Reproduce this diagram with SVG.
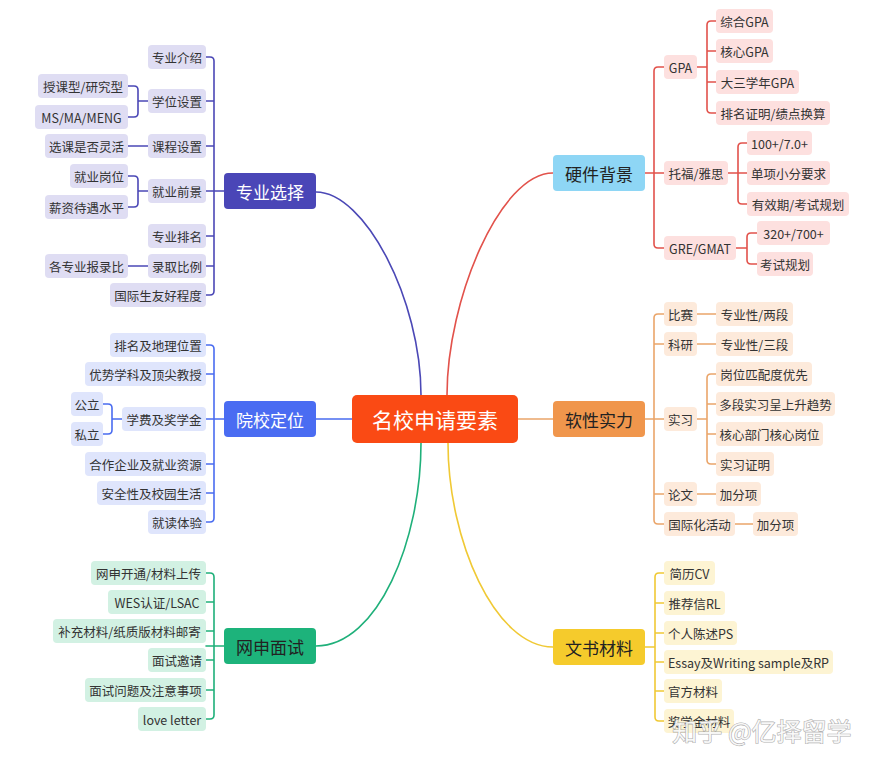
<svg xmlns="http://www.w3.org/2000/svg" width="879" height="765" viewBox="0 0 879 765">
<style>
text{font-family:"Noto Sans CJK SC","Noto Sans",sans-serif;text-anchor:middle;dominant-baseline:central}
.s{font-size:12.5px;fill:#333}
.m{font-size:17px}
.c path{fill:none;stroke-width:1.6;stroke-linecap:round}
.pa rect{fill:#dfddf3}.pb rect{fill:#dfe5fc}.pc rect{fill:#d2f1e3}
.pd rect{fill:#fde0df}.pe rect{fill:#fdeadb}.pf rect{fill:#fdf4d3}
.la{stroke:#4b48b6}.lb{stroke:#4a6cf0}.lc{stroke:#1fb07a}.ld{stroke:#e2524b}.le{stroke:#eaa56a}.lf{stroke:#f0c935}
</style>
<rect width="879" height="765" fill="#fff"/>
<g id="connectors" class="c">
<path class="la" d="M316,192 C365,192 421,300 421,395"/>
<path class="ld" d="M553,173 C500,173 447,300 447,395"/>
<path class="lc" d="M316,646 C378,646 421,540 421,443"/>
<path class="lf" d="M553,647 C495,647 448,540 448,443"/>
<path class="lb" d="M316,419 H352"/>
<path class="le" d="M518,419 H553"/>
<path class="la" d="M206,57 H210 Q214,57 214,61 V291 Q214,295 210,295 H206 M206,101 H214 M206,146 H214 M206,191 H224 M206,236 H214 M206,266 H214"/>
<path class="la" d="M128,86 H134 Q138,86 138,90 V113 Q138,117 134,117 H128 M138,101 H148 M128,146 H148 M128,176 H134 Q138,176 138,180 V203 Q138,207 134,207 H128 M138,191 H148 M128,266 H148"/>
<path class="lb" d="M206,345 H210 Q214,345 214,349 V518 Q214,522 210,522 H206 M206,374 H214 M206,419 H224 M206,464 H214 M206,493 H214"/>
<path class="lb" d="M103,404 H108 Q112,404 112,408 V430 Q112,434 108,434 H103 M112,419 H122"/>
<path class="lc" d="M206,573 H210 Q214,573 214,577 V715 Q214,719 210,719 H206 M206,602 H214 M206,631 H214 M206,646 H224 M206,660 H214 M206,690 H214"/>
<path class="ld" d="M664,67 H658 Q654,67 654,71 V244 Q654,248 658,248 H664 M645,173 H664"/>
<path class="ld" d="M716,21 H711 Q707,21 707,25 V109 Q707,113 711,113 H716 M697,67 H707 M707,51 H716 M707,82 H716"/>
<path class="ld" d="M747,143 H742 Q738,143 738,147 V200 Q738,204 742,204 H747 M728,173 H747"/>
<path class="ld" d="M757,233 H751 Q747,233 747,237 V260 Q747,264 751,264 H757 M736,248 H747"/>
<path class="le" d="M664,314 H658 Q654,314 654,318 V520 Q654,524 658,524 H664 M645,419 H664 M654,344 H664 M654,494 H664"/>
<path class="le" d="M697,314 H716 M697,344 H716 M697,494 H716 M735,524 H753"/>
<path class="le" d="M716,374 H711 Q707,374 707,378 V460 Q707,464 711,464 H716 M697,419 H707 M707,404 H716 M707,434 H716"/>
<path class="lf" d="M664,573 H659 Q655,573 655,577 V717 Q655,721 659,721 H664 M645,647 H655 M655,603 H664 M655,633 H664 M655,662 H664 M655,691 H664"/>
</g>
<g id="center"><rect x="352" y="395" width="166" height="48" rx="5" fill="#fa4a14"/><text x="435" y="419" style="font-size:21px;fill:#fff">名校申请要素</text></g>
<g id="n-zhuanye" class="pa">
<rect x="224" y="173" width="92" height="36" rx="4" style="fill:#4a46b7"/><text class="m" x="270" y="191" fill="#fff">专业选择</text>
</g>
<g id="a1" class="pa"><rect x="148" y="45" width="58" height="24" rx="4"/><text class="s" x="177" y="57">专业介绍</text></g>
<g id="a2" class="pa"><rect x="148" y="89" width="58" height="24" rx="4"/><text class="s" x="177" y="101">学位设置</text></g>
<g id="a2a" class="pa"><rect x="38" y="74" width="90" height="24" rx="4"/><text class="s" x="83" y="86">授课型/研究型</text></g>
<g id="a2b" class="pa"><rect x="35" y="105" width="93" height="24" rx="4"/><text class="s" x="81.5" y="117">MS/MA/MENG</text></g>
<g id="a3" class="pa"><rect x="148" y="134" width="58" height="24" rx="4"/><text class="s" x="177" y="146">课程设置</text></g>
<g id="a3a" class="pa"><rect x="45" y="134" width="83" height="24" rx="4"/><text class="s" x="86.5" y="146">选课是否灵活</text></g>
<g id="a4" class="pa"><rect x="148" y="179" width="58" height="24" rx="4"/><text class="s" x="177" y="191">就业前景</text></g>
<g id="a4a" class="pa"><rect x="70" y="164" width="58" height="24" rx="4"/><text class="s" x="99" y="176">就业岗位</text></g>
<g id="a4b" class="pa"><rect x="45" y="195" width="83" height="24" rx="4"/><text class="s" x="86.5" y="207">薪资待遇水平</text></g>
<g id="a5" class="pa"><rect x="148" y="224" width="58" height="24" rx="4"/><text class="s" x="177" y="236">专业排名</text></g>
<g id="a6" class="pa"><rect x="148" y="254" width="58" height="24" rx="4"/><text class="s" x="177" y="266">录取比例</text></g>
<g id="a6a" class="pa"><rect x="45" y="254" width="83" height="24" rx="4"/><text class="s" x="86.5" y="266">各专业报录比</text></g>
<g id="a7" class="pa"><rect x="110" y="283" width="96" height="24" rx="4"/><text class="s" x="158" y="295">国际生友好程度</text></g>
<g id="n-yuanxiao" class="pb">
<rect x="224" y="401" width="92" height="36" rx="4" style="fill:#4a6cf2"/><text class="m" x="270" y="419" fill="#fff">院校定位</text>
</g>
<g id="b1" class="pb"><rect x="110" y="333" width="96" height="24" rx="4"/><text class="s" x="158" y="345">排名及地理位置</text></g>
<g id="b2" class="pb"><rect x="85" y="362" width="121" height="24" rx="4"/><text class="s" x="145.5" y="374">优势学科及顶尖教授</text></g>
<g id="b3" class="pb"><rect x="122" y="407" width="84" height="24" rx="4"/><text class="s" x="164" y="419">学费及奖学金</text></g>
<g id="b3a" class="pb"><rect x="71" y="392" width="32" height="24" rx="4"/><text class="s" x="87" y="404">公立</text></g>
<g id="b3b" class="pb"><rect x="71" y="422" width="32" height="24" rx="4"/><text class="s" x="87" y="434">私立</text></g>
<g id="b4" class="pb"><rect x="85" y="452" width="121" height="24" rx="4"/><text class="s" x="145.5" y="464">合作企业及就业资源</text></g>
<g id="b5" class="pb"><rect x="97" y="481" width="109" height="24" rx="4"/><text class="s" x="151.5" y="493">安全性及校园生活</text></g>
<g id="b6" class="pb"><rect x="148" y="510" width="58" height="24" rx="4"/><text class="s" x="177" y="522">就读体验</text></g>
<g id="n-wangshen" class="pc">
<rect x="224" y="628" width="92" height="36" rx="4" style="fill:#1db37b"/><text class="m" x="270" y="646" fill="#222">网申面试</text>
</g>
<g id="c1" class="pc"><rect x="91" y="561" width="115" height="24" rx="4"/><text class="s" x="148.5" y="573">网申开通/材料上传</text></g>
<g id="c2" class="pc"><rect x="108" y="590" width="98" height="24" rx="4"/><text class="s" x="157" y="602">WES认证/LSAC</text></g>
<g id="c3" class="pc"><rect x="53" y="619" width="153" height="24" rx="4"/><text class="s" x="129.5" y="631">补充材料/纸质版材料邮寄</text></g>
<g id="c4" class="pc"><rect x="148" y="648" width="58" height="24" rx="4"/><text class="s" x="177" y="660">面试邀请</text></g>
<g id="c5" class="pc"><rect x="85" y="678" width="121" height="24" rx="4"/><text class="s" x="145.5" y="690">面试问题及注意事项</text></g>
<g id="c6" class="pc"><rect x="138" y="707" width="68" height="24" rx="4"/><text class="s" x="172" y="719">love letter</text></g>
<g id="n-yingjian" class="pd">
<rect x="553" y="155" width="92" height="36" rx="4" style="fill:#8ed6f5"/><text class="m" x="599" y="173" fill="#222">硬件背景</text>
</g>
<g id="d1" class="pd"><rect x="664" y="55" width="33" height="24" rx="4"/><text class="s" x="680.5" y="67">GPA</text></g>
<g id="d1a" class="pd"><rect x="716" y="9" width="57" height="24" rx="4"/><text class="s" x="744.5" y="21">综合GPA</text></g>
<g id="d1b" class="pd"><rect x="716" y="39" width="57" height="24" rx="4"/><text class="s" x="744.5" y="51">核心GPA</text></g>
<g id="d1c" class="pd"><rect x="716" y="70" width="83" height="24" rx="4"/><text class="s" x="757.5" y="82">大三学年GPA</text></g>
<g id="d1d" class="pd"><rect x="716" y="101" width="114" height="24" rx="4"/><text class="s" x="773" y="113">排名证明/绩点换算</text></g>
<g id="d2" class="pd"><rect x="664" y="161" width="64" height="24" rx="4"/><text class="s" x="696" y="173">托福/雅思</text></g>
<g id="d2a" class="pd"><rect x="747" y="131" width="65" height="24" rx="4"/><text class="s" x="779.5" y="143">100+/7.0+</text></g>
<g id="d2b" class="pd"><rect x="747" y="161" width="83" height="24" rx="4"/><text class="s" x="788.5" y="173">单项小分要求</text></g>
<g id="d2c" class="pd"><rect x="747" y="192" width="102" height="24" rx="4"/><text class="s" x="798" y="204">有效期/考试规划</text></g>
<g id="d3" class="pd"><rect x="664" y="236" width="72" height="24" rx="4"/><text class="s" x="700" y="248">GRE/GMAT</text></g>
<g id="d3a" class="pd"><rect x="757" y="221" width="73" height="24" rx="4"/><text class="s" x="793.5" y="233">320+/700+</text></g>
<g id="d3b" class="pd"><rect x="757" y="252" width="56" height="24" rx="4"/><text class="s" x="785" y="264">考试规划</text></g>
<g id="n-ruanxing" class="pe">
<rect x="553" y="401" width="92" height="36" rx="4" style="fill:#f0964c"/><text class="m" x="599" y="419" fill="#222">软性实力</text>
</g>
<g id="e1" class="pe"><rect x="664" y="302" width="33" height="24" rx="4"/><text class="s" x="680.5" y="314">比赛</text></g>
<g id="e1a" class="pe"><rect x="716" y="302" width="77" height="24" rx="4"/><text class="s" x="754.5" y="314">专业性/两段</text></g>
<g id="e2" class="pe"><rect x="664" y="332" width="33" height="24" rx="4"/><text class="s" x="680.5" y="344">科研</text></g>
<g id="e2a" class="pe"><rect x="716" y="332" width="77" height="24" rx="4"/><text class="s" x="754.5" y="344">专业性/三段</text></g>
<g id="e3" class="pe"><rect x="664" y="407" width="33" height="24" rx="4"/><text class="s" x="680.5" y="419">实习</text></g>
<g id="e3a" class="pe"><rect x="716" y="362" width="96" height="24" rx="4"/><text class="s" x="764" y="374">岗位匹配度优先</text></g>
<g id="e3b" class="pe"><rect x="716" y="392" width="119" height="24" rx="4"/><text class="s" x="775.5" y="404">多段实习呈上升趋势</text></g>
<g id="e3c" class="pe"><rect x="716" y="422" width="107" height="24" rx="4"/><text class="s" x="769.5" y="434">核心部门核心岗位</text></g>
<g id="e3d" class="pe"><rect x="716" y="452" width="58" height="24" rx="4"/><text class="s" x="745" y="464">实习证明</text></g>
<g id="e4" class="pe"><rect x="664" y="482" width="33" height="24" rx="4"/><text class="s" x="680.5" y="494">论文</text></g>
<g id="e4a" class="pe"><rect x="716" y="482" width="45" height="24" rx="4"/><text class="s" x="738.5" y="494">加分项</text></g>
<g id="e5" class="pe"><rect x="664" y="512" width="71" height="24" rx="4"/><text class="s" x="699.5" y="524">国际化活动</text></g>
<g id="e5a" class="pe"><rect x="753" y="512" width="45" height="24" rx="4"/><text class="s" x="775.5" y="524">加分项</text></g>
<g id="n-wenshu" class="pf">
<rect x="553" y="629" width="92" height="36" rx="4" style="fill:#f5cb2c"/><text class="m" x="599" y="647" fill="#222">文书材料</text>
</g>
<g id="f1" class="pf"><rect x="664" y="561" width="51" height="24" rx="4"/><text class="s" x="689.5" y="573">简历CV</text></g>
<g id="f2" class="pf"><rect x="664" y="591" width="61" height="24" rx="4"/><text class="s" x="694.5" y="603">推荐信RL</text></g>
<g id="f3" class="pf"><rect x="664" y="621" width="73" height="24" rx="4"/><text class="s" x="700.5" y="633">个人陈述PS</text></g>
<g id="f4" class="pf"><rect x="664" y="650" width="169" height="24" rx="4"/><text class="s" x="748.5" y="662">Essay及Writing sample及RP</text></g>
<g id="f5" class="pf"><rect x="664" y="679" width="58" height="24" rx="4"/><text class="s" x="693" y="691">官方材料</text></g>
<g id="f6" class="pf"><rect x="664" y="709" width="70" height="24" rx="4"/><text class="s" x="699" y="721">奖学金材料</text></g>
<text x="762" y="730" style="font-size:25px;fill:#fff;fill-opacity:0.85;stroke:#9a9a9a;stroke-width:1.2;stroke-opacity:0.8;paint-order:stroke">知乎 @亿择留学</text>
</svg>
